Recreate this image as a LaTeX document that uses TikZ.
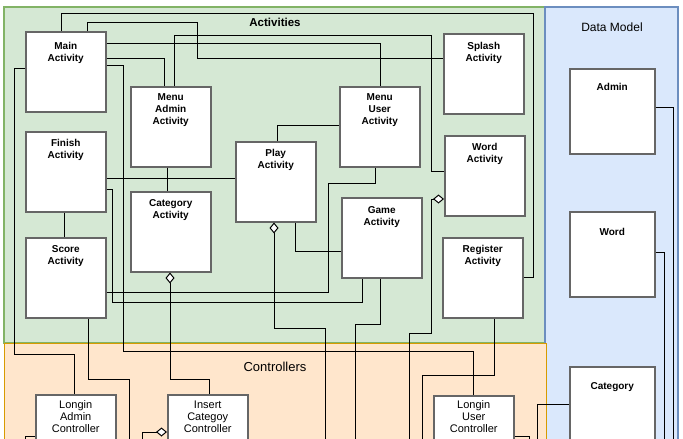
\documentclass[tikz,border=0pt]{standalone}
\usepackage{fontspec}
\setmainfont{Liberation Sans}
\usetikzlibrary{positioning,arrows.meta}
\definecolor{actfill}{HTML}{D5E8D4}
\definecolor{actline}{HTML}{82B366}
\definecolor{datfill}{HTML}{DAE8FC}
\definecolor{datline}{HTML}{6C8EBF}
\definecolor{ctlfill}{HTML}{FFE6CC}
\definecolor{ctlline}{HTML}{D79B00}
\definecolor{boxgray}{HTML}{666666}
\begin{document}
\begin{tikzpicture}[x = 1pt, y = -1pt, line width = 1pt,
    box/.style = {draw = boxgray, fill = white, line width = 1.5pt, minimum width = 80pt, minimum height = 80pt, anchor = north west, inner sep = 0pt},
    dbox/.style = {box, minimum width = 85pt, minimum height = 85pt},
    lbl/.style = {font = \bfseries\fontsize{10}{12}\selectfont, align = center, inner sep = 0pt},
    clbl/.style = {lbl, font = \fontsize{11}{12}\selectfont},
    wire/.style = {draw = black, line width = 1pt},
    agg/.style = {wire, {Diamond[fill = white, length = 11pt, width = 9pt]}-}]
  \clip (0, 0) rectangle (683, 439);
  \fill[white] (0, 0) rectangle (683, 439);
  % containers
  \draw[fill = actfill, draw = actline, line width = 1.5pt] (4, 7) rectangle (545, 343);
  \draw[fill = datfill, draw = datline, line width = 1.5pt] (545, 7) rectangle (678, 460);
  \draw[fill = ctlfill, draw = ctlline, line width = 1pt] (4, 343) rectangle (546, 460);
  \node[font = \bfseries\fontsize{11.5}{14}\selectfont] (actT) at (275, 22) {Activities};
  \node[font = \fontsize{12}{14}\selectfont] (datT) at (612, 27) {Data Model};
  \node[font = \fontsize{13}{15}\selectfont] (ctlT) at (275, 367) {Controllers};
  % boxes
  \node[box] (main) at (25, 31) {};
  \node[box] (finish) at (25, 131) {};
  \node[box] (score) at (25, 237) {};
  \node[box] (menuadmin) at (130, 86) {};
  \node[box] (category) at (130, 191) {};
  \node[box] (play) at (235, 141) {};
  \node[box] (menuuser) at (339, 86) {};
  \node[box] (game) at (341, 197) {};
  \node[box] (splash) at (443, 33) {};
  \node[box] (word) at (444, 135) {};
  \node[box] (register) at (442, 237) {};
  \node[dbox] (admin) at (569, 68) {};
  \node[dbox] (dword) at (569, 211) {};
  \node[dbox] (dcategory) at (569, 366) {};
  \node[box] (loginadmin) at (35, 394) {};
  \node[box] (insert) at (167, 394) {};
  \node[box] (loginuser) at (433, 395) {};
  % labels
  \node[lbl, below = 11pt of main.north] (mainL) {Main\\Activity};
  \node[lbl, below = 8pt of finish.north] (finishL) {Finish\\Activity};
  \node[lbl, below = 8pt of score.north] (scoreL) {Score\\Activity};
  \node[lbl, below = 7pt of menuadmin.north] (menuadminL) {Menu\\Admin\\Activity};
  \node[lbl, below = 8pt of category.north] (categoryL) {Category\\Activity};
  \node[lbl, below = 8pt of play.north] (playL) {Play\\Activity};
  \node[lbl, below = 7pt of menuuser.north] (menuuserL) {Menu\\User\\Activity};
  \node[lbl, below = 9pt of game.north] (gameL) {Game\\Activity};
  \node[lbl, below = 9pt of splash.north] (splashL) {Splash\\Activity};
  \node[lbl, below = 8pt of word.north] (wordL) {Word\\Activity};
  \node[lbl, below = 8pt of register.north] (registerL) {Register\\Activity};
  \node[lbl, below = 15pt of admin.north] (adminL) {Admin};
  \node[lbl, below = 17pt of dword.north] (dwordL) {Word};
  \node[lbl, below = 16pt of dcategory.north] (dcategoryL) {Category};
  \node[clbl, below = 6pt of loginadmin.north] (loginadminL) {Longin\\Admin\\Controller};
  \node[clbl, below = 6pt of insert.north] (insertL) {Insert\\Categoy\\Controller};
  \node[clbl, below = 5pt of loginuser.north] (loginuserL) {Longin\\User\\Controller};
  % loose ends at the bottom
  \coordinate (out1) at (325, 450);
  \coordinate (out2) at (355, 450);
  \coordinate (out3) at (409, 450);
  \coordinate (out4) at (422, 450);
  \coordinate (out5) at (673, 450);
  \coordinate (out6) at (664, 450);
  \coordinate (out7) at (537, 450);
  \coordinate (out8) at (529, 450);
  \coordinate (out9) at (25, 450);
  \coordinate (out10) at (142, 450);
  \coordinate (out11) at (129, 450);
  % connectors
  \draw[wire] (61, 0 |- main.north) |- (533, 13) |- (register.east |- 0, 277);
  \draw[wire] (87, 0 |- main.north) |- (197, 22) |- (splash.west |- 0, 58);
  \draw[wire] (main.east |- 0, 43) -| (380, 0 |- menuuser.north);
  \draw[wire] (174, 0 |- menuadmin.north) |- (431, 35) |- (word.west |- 0, 171);
  \draw[wire] (main.east |- 0, 58) -| (164, 0 |- menuadmin.north);
  \draw[wire] (main.east |- 0, 65) -| (123, 351) -| (473, 0 |- loginuser.north);
  \draw[wire] (main.west |- 0, 68) -| (14, 354) -| (74, 0 |- loginadmin.north);
  \draw[wire] (finish.east |- 0, 178) -- (play.west |- 0, 178);
  \draw[wire] (finish.east |- 0, 189) -| (112, 302) -| (362, 0 |- game.south);
  \draw[wire] (167, 0 |- menuadmin.south) -- (167, 0 |- category.north);
  \draw[wire] (64, 0 |- finish.south) -- (64, 0 |- score.north);
  \draw[wire] (score.east |- 0, 292) -| (328, 183) -| (375, 0 |- menuuser.south);
  \draw[agg] (170, 0 |- category.south) |- (209, 379) -- (209, 0 |- insert.north);
  \draw[agg] (274, 0 |- play.south) |- (325, 328) -- (out1);
  \draw[wire] (277, 0 |- play.north) |- (menuuser.west |- 0, 125);
  \draw[wire] (295, 0 |- play.south) |- (game.west |- 0, 251);
  \draw[wire] (380, 0 |- game.south) |- (355, 324) -- (out2);
  \draw[agg] (word.west |- 0, 199) -| (431, 333) -| (out3);
  \draw[wire] (494, 0 |- register.south) |- (422, 375) -- (out4);
  \draw[wire] (admin.east |- 0, 107) -| (out5);
  \draw[wire] (dword.east |- 0, 252) -| (out6);
  \draw[wire] (dcategory.west |- 0, 404) -| (out7);
  \draw[wire] (loginuser.east |- 0, 436) -| (out8);
  \draw[wire] (loginadmin.west |- 0, 436) -| (out9);
  \draw[agg] (insert.west |- 0, 432) -| (out10);
  \draw[wire] (88, 0 |- score.south) |- (129, 379) -- (out11);
\end{tikzpicture}
\end{document}
